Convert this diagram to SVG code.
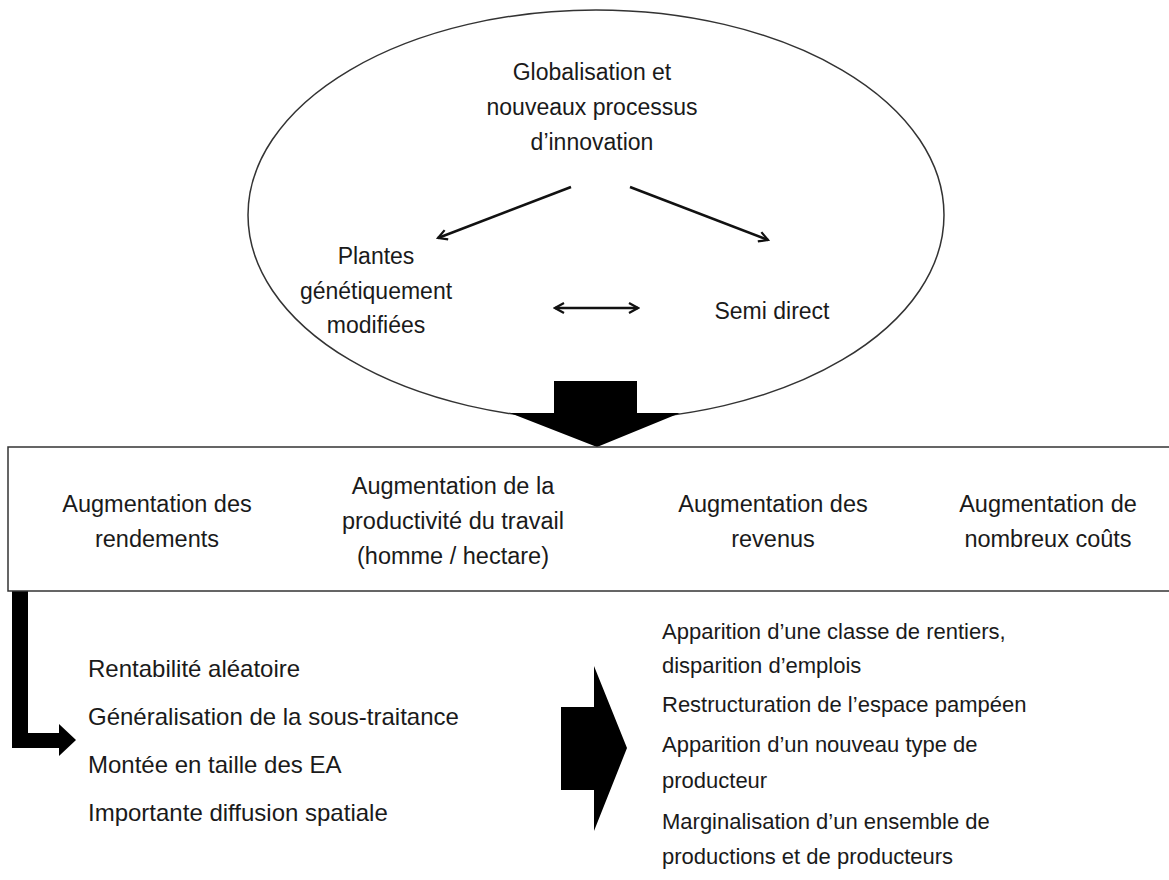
<svg xmlns="http://www.w3.org/2000/svg" width="1169" height="880" viewBox="0 0 1169 880">
<defs>
<style>
text{font-family:"Liberation Sans",Arial,sans-serif;font-size:23px;fill:#1a1a1a}
.c{text-anchor:middle}
.b{font-size:23.5px}
.l{font-size:24px}
.r{font-size:22px}
.ln{stroke:#111;stroke-width:2.5;fill:none}
.blk{fill:#000;stroke:none}
</style>
<marker id="ah" viewBox="0 0 12 12" refX="10" refY="6" markerWidth="12" markerHeight="12" markerUnits="userSpaceOnUse" orient="auto-start-reverse">
<path d="M1,1 L10,6 L1,11" fill="none" stroke="#111" stroke-width="2.2"/>
</marker>
</defs>
<rect width="1169" height="880" fill="#fff"/>
<g id="ellipse-node">
<ellipse cx="596" cy="215" rx="348" ry="205" fill="#fff" stroke="#333" stroke-width="1.5"/>
</g>
<g id="globalisation">
<text class="c" x="592" y="80">Globalisation et</text>
<text class="c" x="592" y="115">nouveaux processus</text>
<text class="c" x="592" y="150">d’innovation</text>
</g>
<g id="plantes">
<text class="c" x="376" y="264">Plantes</text>
<text class="c" x="376" y="299">génétiquement</text>
<text class="c" x="376" y="333">modifiées</text>
</g>
<g id="semi-direct">
<text class="c" x="772" y="319">Semi direct</text>
</g>
<g id="connectors">
<line class="ln" x1="571" y1="187" x2="438" y2="238" marker-end="url(#ah)"/>
<line class="ln" x1="630" y1="187" x2="768" y2="240" marker-end="url(#ah)"/>
<line class="ln" x1="555" y1="308" x2="638" y2="308" marker-start="url(#ah)" marker-end="url(#ah)"/>
<polygon class="blk" points="554,381 637,381 637,413 680,413 597,447 510,413 554,413"/>
<polygon class="blk" points="12,591 28,591 28,733 59,733 59,724 76,740 59,756 59,748 12,748"/>
<polygon class="blk" points="561,707 594,707 594,666 627,748 594,831 594,790 561,790"/>
</g>
<g id="effects-box">
<rect x="8" y="447" width="1180" height="144" fill="none" stroke="#333" stroke-width="1.5"/>
<text class="c b" x="157" y="512">Augmentation des</text>
<text class="c b" x="157" y="547">rendements</text>
<text class="c b" x="453" y="494">Augmentation de la</text>
<text class="c b" x="453" y="529">productivité du travail</text>
<text class="c b" x="453" y="564">(homme / hectare)</text>
<text class="c b" x="773" y="512">Augmentation des</text>
<text class="c b" x="773" y="547">revenus</text>
<text class="c b" x="1048" y="512">Augmentation de</text>
<text class="c b" x="1048" y="547">nombreux coûts</text>
</g>
<g id="consequences-left">
<text class="l" x="88" y="677">Rentabilité aléatoire</text>
<text class="l" x="88" y="725">Généralisation de la sous-traitance</text>
<text class="l" x="88" y="773">Montée en taille des EA</text>
<text class="l" x="88" y="821">Importante diffusion spatiale</text>
</g>
<g id="consequences-right">
<text class="r" x="662" y="639">Apparition d’une classe de rentiers,</text>
<text class="r" x="662" y="673">disparition d’emplois</text>
<text class="r" x="662" y="712">Restructuration de l’espace pampéen</text>
<text class="r" x="662" y="752">Apparition d’un nouveau type de</text>
<text class="r" x="662" y="788">producteur</text>
<text class="r" x="662" y="829">Marginalisation d’un ensemble de</text>
<text class="r" x="662" y="864">productions et de producteurs</text>
</g>
</svg>
